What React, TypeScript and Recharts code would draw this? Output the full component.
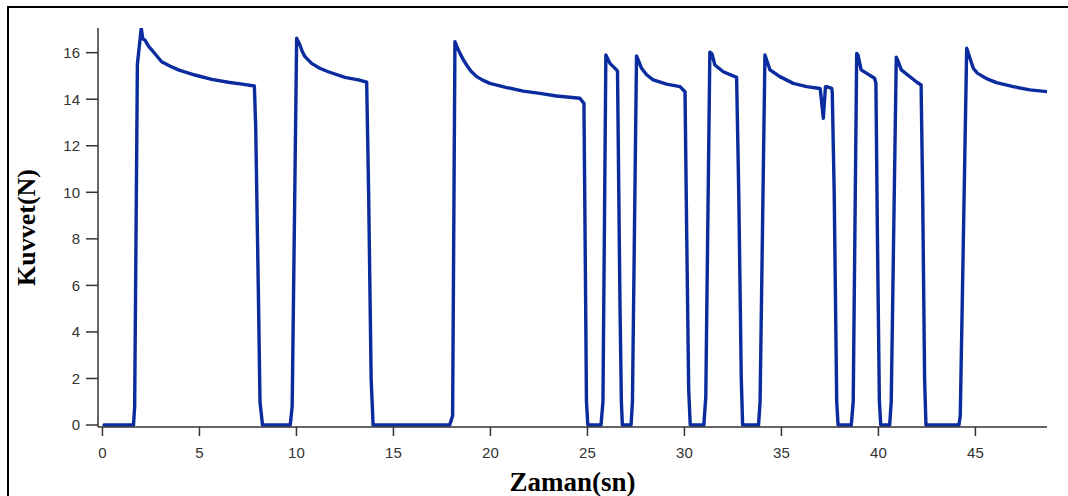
import { LineChart, Line, XAxis, YAxis } from "recharts";

// time (s) of each sample
const timeValues = [
  0.08, 1.6, 1.66, 1.8, 2.0, 2.08, 2.19, 2.4, 2.62, 3.05, 3.5, 3.91, 4.77, 5.63, 6.49, 7.2, 7.83, 7.9, 8.05, 8.12, 8.25,
  9.68, 9.78, 10.01, 10.18, 10.3, 10.44, 10.78, 11.2, 11.64, 12.5, 13.19, 13.62, 13.72, 13.85, 13.95,
  17.9, 18.05, 18.17, 18.3, 18.43, 18.6, 18.77, 19.0, 19.29, 19.6, 19.97, 20.84, 21.69, 22.55, 23.41, 24.61, 24.82, 24.88, 24.95, 25.02,
  25.7, 25.8, 25.95, 26.16, 26.5, 26.55, 26.68, 26.75, 26.8,
  27.25, 27.32, 27.53, 27.79, 28.05, 28.39, 29.08, 29.77, 30.03, 30.12, 30.22, 30.3,
  31.0, 31.1, 31.31, 31.42, 31.57, 32.0, 32.69, 32.8, 32.93, 33.0,
  33.82, 33.9, 34.15, 34.41, 34.92, 35.61, 36.3, 36.9, 37.0, 37.16, 37.27, 37.33, 37.59, 37.62, 37.72, 37.85, 37.92,
  38.6, 38.7, 38.88, 38.95, 39.11, 39.8, 39.87, 39.95, 40.05, 40.12,
  40.58, 40.66, 40.92, 40.98, 41.18, 41.95, 42.2, 42.28, 42.38, 42.45,
  44.15, 44.22, 44.55, 44.72, 44.89, 45.1, 45.4, 45.7, 46.09, 46.95, 47.81, 48.75,
];

// force (N) at each sample
const forceValues = [
  0, 0, 0.8, 15.5, 17.05, 16.6, 16.54, 16.25, 16.04, 15.61, 15.42, 15.26, 15.04, 14.85, 14.73, 14.65, 14.57, 12.8, 5, 1, 0,
  0, 0.8, 16.62, 16.33, 16.05, 15.83, 15.54, 15.33, 15.18, 14.94, 14.83, 14.73, 10, 2, 0,
  0, 0.4, 16.47, 16.2, 15.97, 15.7, 15.47, 15.2, 14.97, 14.82, 14.68, 14.5, 14.35, 14.25, 14.14, 14.04, 13.82, 8, 1, 0,
  0, 1, 15.9, 15.54, 15.26, 15.2, 5, 1, 0,
  0, 1, 15.86, 15.33, 15.05, 14.83, 14.65, 14.54, 14.32, 8, 1.5, 0,
  0, 1.2, 16.02, 15.95, 15.47, 15.18, 14.94, 10, 2, 0,
  0, 1, 15.9, 15.26, 14.97, 14.68, 14.54, 14.47, 14.45, 13.18, 14.54, 14.54, 14.47, 14.3, 10, 1, 0,
  0, 1, 15.97, 15.9, 15.26, 14.9, 14.7, 8, 1, 0,
  0, 1, 15.8, 15.7, 15.26, 14.75, 14.61, 10, 2, 0,
  0, 0.4, 16.19, 15.76, 15.33, 15.12, 14.97, 14.84, 14.71, 14.54, 14.4, 14.32,
];

const xTicks = [0, 5, 10, 15, 20, 25, 30, 35, 40, 45];
const yTicks = [0, 2, 4, 6, 8, 10, 12, 14, 16];

const data = timeValues.map((t, i) => ({ t, f: forceValues[i] }));

const tickStyle = { fontFamily: "'Liberation Sans', Arial, sans-serif", fontSize: 15, fill: "#333" };
const labelFont = "'Liberation Serif', 'Times New Roman', serif";

export default function App() {
  return (
    <div style={{ position: "absolute", left: 0, top: 0, width: 1068, height: 496, background: "#fff" }}>
      <div
        style={{
          position: "absolute",
          left: 7,
          top: 6,
          width: 1061,
          height: 490,
          borderTop: "2px solid #000",
          borderLeft: "2px solid #000",
          boxSizing: "border-box",
        }}
      />
      <LineChart
        width={1068}
        height={496}
        data={data}
        margin={{ top: 28, right: 21, bottom: 0, left: 0 }}
        style={{ position: "absolute", left: 0, top: 0 }}
      >
        <XAxis
          dataKey="t"
          type="number"
          domain={[-0.23, 48.69]}
          allowDataOverflow
          ticks={xTicks}
          height={69}
          tickSize={9}
          tickMargin={11}
          stroke="#333"
          strokeWidth={1.5}
          tick={tickStyle}
          label={{
            value: "Zaman(sn)",
            position: "insideBottom",
            offset: 5,
            style: { fontFamily: labelFont, fontWeight: "bold", fontSize: 27, fill: "#000" },
          }}
        />
        <YAxis
          type="number"
          domain={[-0.085, 17.06]}
          allowDataOverflow
          ticks={yTicks}
          width={98}
          tickSize={12}
          tickMargin={6}
          stroke="#333"
          strokeWidth={1.5}
          tick={tickStyle}
          label={{
            value: "Kuvvet(N)",
            angle: -90,
            position: "insideLeft",
            offset: 26,
            style: { textAnchor: "middle", fontFamily: labelFont, fontWeight: "bold", fontSize: 26, fill: "#000" },
          }}
        />
        <Line
          type="linear"
          dataKey="f"
          stroke="#0b2c9e"
          strokeWidth={3.4}
          strokeLinejoin="round"
          strokeLinecap="round"
          dot={false}
          isAnimationActive={false}
        />
      </LineChart>
    </div>
  );
}
